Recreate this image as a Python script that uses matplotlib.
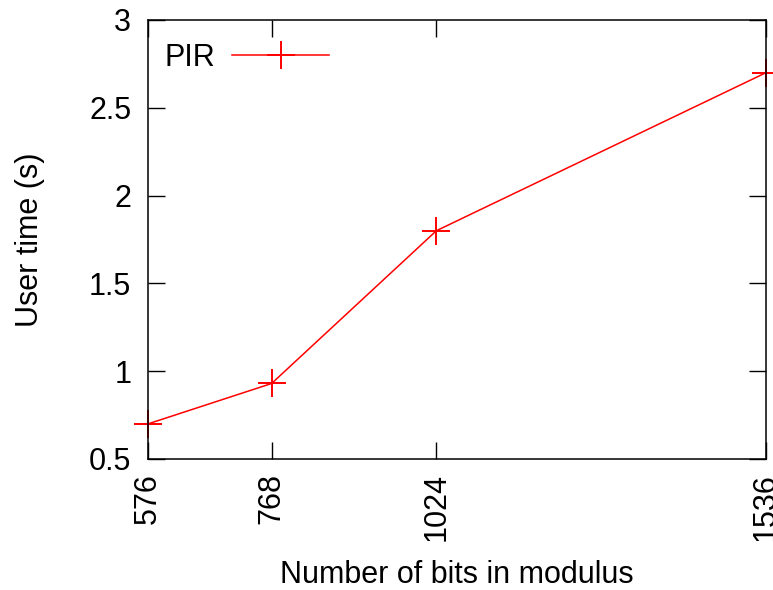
import matplotlib
matplotlib.use("Agg")
import matplotlib.pyplot as plt

bits = [576, 768, 1024, 1536]
user_time = [0.70, 0.93, 1.80, 2.70]
y_ticks = [0.5, 1, 1.5, 2, 2.5, 3]
y_labels = ["0.5", "1", "1.5", "2", "2.5", "3"]

plt.rcParams['font.family'] = ['Liberation Sans', 'DejaVu Sans']

fig = plt.figure(figsize=(7.73, 5.90), dpi=100)
ax = fig.add_axes([148 / 773, 1 - 459 / 590, (766 - 148) / 773, (459 - 20) / 590])

ax.plot(bits, user_time, color="#ff0000", linewidth=1.1, marker="+",
        markersize=20, markeredgewidth=1.4, label="PIR", clip_on=False)

ax.set_xlim(576, 1536)
ax.set_ylim(0.5, 3)
ax.set_xticks(bits)
ax.set_xticklabels([str(b) for b in bits], rotation=90, fontsize=22)
ax.set_yticks(y_ticks)
ax.set_yticklabels(y_labels, fontsize=22)
ax.tick_params(direction="in", length=12, width=1, top=True, right=True, pad=12)
ax.tick_params(axis="x", pad=10)
for s in ax.spines.values():
    s.set_linewidth(1.1)

ax.set_xlabel("Number of bits in modulus", fontsize=22, labelpad=14)
ax.set_ylabel("User time (s)", fontsize=22, labelpad=32)

leg = ax.legend(loc="upper left", bbox_to_anchor=(-0.011, 1.0), frameon=False,
                fontsize=22, markerfirst=False, handlelength=3.2,
                borderaxespad=0.35, handletextpad=0.55)

fig.savefig("out.png", dpi=100)
